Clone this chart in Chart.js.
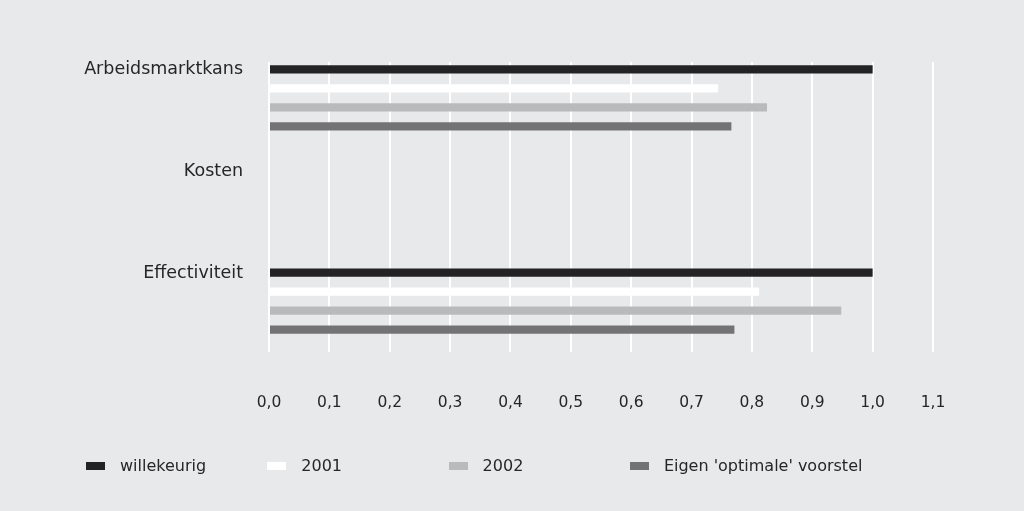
<!DOCTYPE html>
<html>
<head>
<meta charset="utf-8">
<script src="https://cdn.jsdelivr.net/npm/chart.js@4"></script>
<style>
    body { margin: 0; background: #e8e9eb; }
    #wrap { position: relative; width: 1024px; height: 511px; }
    #legend { position: absolute; left: 86px; top: 455px; display: flex; font: 16px "DejaVu Sans", sans-serif; color: #262626; white-space: nowrap; }
    #legend .item { width: 181.3px; flex: none; display: flex; align-items: center; height: 20px; }
    #legend .item:last-child { width: auto; }
    #legend .box { width: 19px; height: 8px; margin-right: 15px; margin-top: 2px; flex: none; }
</style>
</head>
<body>
<div id="wrap">
    <canvas id="barChart" width="1024" height="511"></canvas>
    <div id="legend"></div>
</div>
<script>
const categories = ["Arbeidsmarktkans", "Kosten", "Effectiviteit"];
const seriesNames = ["willekeurig", "2001", "2002", "Eigen 'optimale' voorstel"];
const willekeurig = [1.0, null, 1.0];
const jaar2001 = [0.744, null, 0.812];
const jaar2002 = [0.825, null, 0.948];
const eigenVoorstel = [0.766, null, 0.771];
const xTickLabels = ["0,0", "0,1", "0,2", "0,3", "0,4", "0,5", "0,6", "0,7", "0,8", "0,9", "1,0", "1,1"];

const colors = ["#232325", "#ffffff", "#b9babc", "#737275"];
const values = [willekeurig, jaar2001, jaar2002, eigenVoorstel];

// grid lines start a bit below the top of the plot area in the original
const gridClip = {
    id: "gridClip",
    beforeDraw(chart) {
        const ctx = chart.ctx;
        ctx.save();
        ctx.beginPath();
        ctx.rect(0, chart.chartArea.top + 15, chart.width, chart.height);
        ctx.clip();
    },
    beforeDatasetsDraw(chart) {
        chart.ctx.restore();
    }
};

const ctx = document.getElementById("barChart").getContext("2d");
new Chart(ctx, {
    type: "bar",
    data: {
        labels: categories,
        datasets: seriesNames.map((name, i) => ({
            label: name,
            data: values[i],
            backgroundColor: colors[i],
            borderWidth: 0,
            barPercentage: 0.44,
            categoryPercentage: 0.747
        }))
    },
    options: {
        indexAxis: "y",
        responsive: false,
        devicePixelRatio: 1,
        animation: false,
        layout: { padding: { top: 47, right: 91, left: 0, bottom: 0 } },
        plugins: { legend: { display: false }, tooltip: { enabled: false } },
        scales: {
            x: {
                min: 0,
                max: 1.1,
                ticks: {
                    stepSize: 0.1,
                    padding: 42,
                    z: 1,
                    color: "#262626",
                    font: { family: "DejaVu Sans", size: 15.5 },
                    callback: (v, i) => xTickLabels[i]
                },
                grid: { color: "#ffffff", lineWidth: 2, drawTicks: false },
                border: { display: false },
                afterFit: (s) => { s.height = 159; }
            },
            y: {
                ticks: {
                    padding: 26,
                    labelOffset: -28,
                    z: 1,
                    color: "#262626",
                    font: { family: "DejaVu Sans", size: 17.5 }
                },
                grid: { display: false, drawTicks: false },
                border: { display: false },
                afterFit: (s) => { s.width = 269; }
            }
        }
    },
    plugins: [gridClip]
});

const legend = document.getElementById("legend");
for (let i = 0; i < seriesNames.length; i++) {
    legend.innerHTML += `<div class="item"><div class="box" style="background:${colors[i]}"></div>${seriesNames[i]}</div>`;
}
</script>
</body>
</html>
